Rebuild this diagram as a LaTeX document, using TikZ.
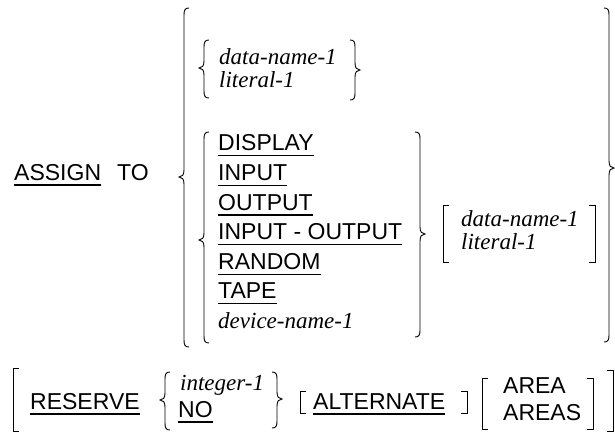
\documentclass[tikz,border=0pt]{standalone}
\usepackage{fontspec}
\setmainfont{Liberation Serif}
\setsansfont{Liberation Sans}
\newcommand\dLbrace[4]{% x, ytop, ybot, ymid
  \draw[brc] (#1+5,#2) .. controls (#1+1,#2) and (#1,#2+2) .. (#1,#2+7) -- (#1,#4-7)
    .. controls (#1,#4-2) and (#1-2,#4) .. (#1-5,#4) .. controls (#1-2,#4) and (#1,#4+2) .. (#1,#4+7)
    -- (#1,#3-7) .. controls (#1,#3-2) and (#1+1,#3) .. (#1+5,#3);}
\newcommand\dRbrace[4]{% x, ytop, ybot, ymid
  \draw[brc] (#1-5,#2) .. controls (#1-1,#2) and (#1,#2+2) .. (#1,#2+7) -- (#1,#4-7)
    .. controls (#1,#4-2) and (#1+2,#4) .. (#1+5,#4) .. controls (#1+2,#4) and (#1,#4+2) .. (#1,#4+7)
    -- (#1,#3-7) .. controls (#1,#3-2) and (#1-1,#3) .. (#1-5,#3);}
\newcommand\dLbrack[3]{\draw[brc] (#1+6,#2) -- (#1,#2) -- (#1,#3) -- (#1+6,#3);}
\newcommand\dRbrack[3]{\draw[brc] (#1-6,#2) -- (#1,#2) -- (#1,#3) -- (#1-6,#3);}
\newcommand\ulnode[1]{\draw[ul] ([yshift=-5pt]#1.base west) -- ([yshift=-5pt]#1.base east);}
\begin{document}
\begin{tikzpicture}[x=1pt,y=-1pt,
  kw/.style={font=\sffamily\fontsize{23}{23}\selectfont, inner sep=0pt, anchor=base west},
  var/.style={font=\itshape\fontsize{23}{23}\selectfont, inner sep=0pt, anchor=base west},
  ul/.style={line width=1.1pt},
  brc/.style={line width=0.9pt}]
\useasboundingbox (0,0) rectangle (615,431);
% ASSIGN TO
\node[kw] (assign) at (14,180) {ASSIGN};
\node[kw] (to) at (117,180) {TO};
% first alternative
\node[var] (dn1) at (219,64) {data-name-1};
\node[var] (lit1) at (219,87) {literal-1};
% second alternative
\node[kw] (display) at (218,150.8) {DISPLAY};
\node[kw] (input) at (218,180.4) {INPUT};
\node[kw] (output) at (218,210) {OUTPUT};
\node[kw] (inout) at (218,239.6) {INPUT - OUTPUT};
\node[kw] (random) at (218,269.2) {RANDOM};
\node[kw] (tape) at (218,298.8) {TAPE};
\node[var] (dev) at (218,328.4) {device-name-1};
\node[var] (dn2) at (461,226) {data-name-1};
\node[var] (lit2) at (461,249) {literal-1};
% RESERVE clause
\node[kw] (reserve) at (30,409) {RESERVE};
\node[var] (int) at (180,390) {integer-1};
\node[kw] (no) at (178,417) {NO};
\node[kw] (alt) at (313,409) {ALTERNATE};
\node[kw] (area) at (503,393) {AREA};
\node[kw] (areas) at (503,420) {AREAS};
% underlines
\ulnode{assign}
\ulnode{display}
\ulnode{input}
\ulnode{output}
\ulnode{inout}
\ulnode{random}
\ulnode{tape}
\ulnode{reserve}
\ulnode{no}
\ulnode{alt}
% braces
\dLbrace{184}{8}{347}{177}
\dRbrace{609}{8}{342}{168}
\dLbrace{204}{40}{98}{68}
\dRbrace{355}{40}{100}{70}
\dLbrace{204}{132}{343}{240}
\dRbrace{420}{132}{337}{234}
\dLbrace{165}{372}{430}{400}
\dRbrace{277}{372}{428}{399}
% brackets
\dLbrack{443}{205}{262}
\dRbrack{595}{205}{262}
\dLbrack{300}{391}{413}
\dRbrack{467}{391}{413}
\dLbrack{482}{378}{429}
\dRbrack{593}{378}{429}
\dLbrack{13}{368}{431}
\dRbrack{613}{370}{431}
\end{tikzpicture}
\end{document}
